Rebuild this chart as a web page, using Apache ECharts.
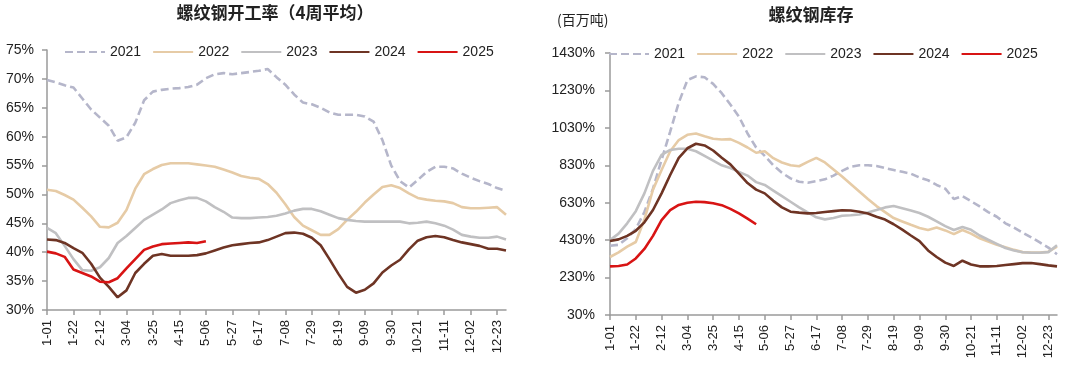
<!DOCTYPE html>
<html><head><meta charset="utf-8">
<script src="https://cdn.jsdelivr.net/npm/echarts@6/dist/echarts.min.js"></script>
<style>html,body{margin:0;padding:0;background:#fff}#c{width:1080px;height:368px}</style>
</head><body><div id="c"></div>
<script>
const weeks = ['1-01','1-08','1-15','1-22','1-29','2-05','2-12','2-19','2-26','3-04','3-11','3-18','3-25','4-01','4-08','4-15','4-22','4-29','5-06','5-13','5-20','5-27','6-03','6-10','6-17','6-24','7-01','7-08','7-15','7-22','7-29','8-05','8-12','8-19','8-26','9-02','9-09','9-16','9-23','9-30','10-07','10-14','10-21','10-28','11-04','11-11','11-18','11-25','12-02','12-09','12-16','12-23','12-30'];
const years = ['2021','2022','2023','2024','2025'];

// 螺纹钢开工率（4周平均）, %
const rate2021 = [69.8,69.4,68.9,68.5,66.6,64.7,63.3,61.9,59.3,59.9,62.4,66.3,67.8,68.1,68.3,68.4,68.6,69.0,70.1,70.8,71.0,70.8,71.0,71.2,71.4,71.7,70.3,69.0,67.3,65.9,65.6,65.0,64.2,63.8,63.8,63.8,63.5,62.6,59.4,55.0,52.3,51.2,52.5,53.9,54.8,54.8,54.5,53.6,52.9,52.3,51.8,51.1,50.6];
const rate2022 = [50.8,50.6,49.9,49.1,47.7,46.2,44.4,44.3,45.1,47.3,51.0,53.5,54.4,55.1,55.4,55.4,55.4,55.2,55.0,54.8,54.3,53.8,53.2,52.9,52.7,51.8,50.3,48.3,46.1,44.6,43.8,43.0,43.0,44.0,45.6,47.0,48.6,50.0,51.3,51.6,51.1,50.2,49.4,49.1,48.9,48.8,48.5,47.8,47.6,47.6,47.7,47.8,46.5];
const rate2023 = [44.2,43.3,41.1,38.8,36.9,36.8,37.4,39.0,41.6,42.8,44.2,45.6,46.5,47.4,48.5,49.0,49.4,49.4,48.8,47.8,47.0,46.0,45.9,45.9,46.0,46.1,46.3,46.7,47.2,47.5,47.5,47.1,46.5,45.9,45.6,45.4,45.3,45.3,45.3,45.3,45.3,45.0,45.1,45.3,45.0,44.6,43.9,43.0,42.7,42.5,42.5,42.7,42.2];
const rate2024 = [42.2,42.1,41.6,40.7,39.9,38.0,35.6,34.0,32.2,33.4,36.4,38.0,39.4,39.7,39.4,39.4,39.4,39.5,39.8,40.3,40.8,41.2,41.4,41.6,41.7,42.1,42.7,43.3,43.4,43.2,42.5,41.2,38.8,36.3,34.0,33.0,33.5,34.6,36.5,37.7,38.7,40.5,42.0,42.6,42.8,42.6,42.1,41.7,41.4,41.1,40.6,40.6,40.3];
const rate2025 = [40.1,39.8,39.2,37.0,36.4,35.8,34.9,34.8,35.5,37.2,38.8,40.4,41.0,41.4,41.5,41.6,41.7,41.6,41.9];

// 螺纹钢库存 (百万吨)
const stock2021 = [400,405,440,490,580,705,860,1010,1165,1285,1305,1300,1265,1215,1155,1090,1000,925,880,830,790,760,742,737,745,755,775,800,822,830,830,826,815,805,795,785,765,750,725,705,650,665,638,610,580,555,520,497,470,445,418,390,355];
const stock2022 = [340,365,395,420,540,700,805,905,965,993,1000,985,972,968,970,950,925,897,905,868,845,830,825,848,870,845,808,770,730,690,650,612,580,548,530,512,495,484,497,482,462,484,465,440,422,405,392,378,366,364,364,368,395];
const stock2023 = [430,465,520,585,680,800,885,912,918,918,905,880,855,830,815,795,775,740,725,695,665,635,605,578,552,541,548,560,563,567,578,591,605,612,600,588,575,555,530,505,484,500,485,455,432,410,388,375,365,363,363,366,403];
const stock2024 = [425,434,453,480,525,591,680,778,870,921,945,936,909,870,835,785,735,700,680,640,605,582,577,573,575,580,585,590,588,582,572,555,540,515,486,455,425,375,340,310,292,320,300,290,290,292,297,302,307,308,302,295,290];
const stock2025 = [290,292,300,332,383,453,537,590,618,630,635,633,627,617,597,573,545,515];

const rateAxis = { min: 30, max: 75, interval: 5 };
const stockAxis = { min: 30, max: 1430, interval: 200 };

const colors = ['#b5b6ca', '#e6cba6', '#c0c0c2', '#6e3424', '#d81414'];
const FONT = '"Liberation Sans", Arial, "Noto Sans CJK SC", sans-serif';
const CJK = '"Noto Sans CJK SC", "Liberation Sans", sans-serif';

const rateData = [rate2021, rate2022, rate2023, rate2024, rate2025];
const stockData = [stock2021, stock2022, stock2023, stock2024, stock2025];

function mkSeries(arrs, idx, suffix) {
  return arrs.map((d, k) => ({
    name: years[k] + suffix, type: 'line', xAxisIndex: idx, yAxisIndex: idx,
    data: d, symbol: 'none', smooth: false, z: 2 + k,
    lineStyle: { color: colors[k], width: 2.6, type: k === 0 ? [8, 4] : 'solid', cap: 'butt' },
    itemStyle: { color: colors[k] }
  }));
}

const axisLineStyle = { lineStyle: { color: '#9a9a9a', width: 1.5 } };

function xAx(gi) {
  return {
    type: 'category', gridIndex: gi, data: weeks, boundaryGap: false,
    axisLine: axisLineStyle,
    axisTick: { show: true, interval: 2, length: 5, lineStyle: { color: '#9a9a9a', width: 1.5 } },
    axisLabel: { interval: 2, rotate: 90, margin: 10, fontSize: 13, color: '#222', fontFamily: FONT },
    splitLine: { show: false }
  };
}
function yAx(gi, cfg, margin) {
  return {
    type: 'value', gridIndex: gi, min: cfg.min, max: cfg.max, interval: cfg.interval,
    axisLine: Object.assign({ show: true }, axisLineStyle),
    axisTick: { show: true, length: 5, lineStyle: { color: '#9a9a9a', width: 1.5 } },
    axisLabel: { formatter: v => String(v) + '%', fontSize: 14, color: '#222', fontFamily: FONT, margin: margin },
    splitLine: { show: false }
  };
}
function mkLegend(left, top, names) {
  return {
    left: left, top: top, itemWidth: 40, itemHeight: 14, itemGap: 11, data: names,
    formatter: n => n.trim(),
    itemStyle: { opacity: 0 },
    textStyle: { fontSize: 14, color: '#222', fontFamily: FONT }
  };
}

const chart = echarts.init(document.getElementById('c'), null, { renderer: 'canvas' });
const leftSeries = mkSeries(rateData, 0, '');
const rightSeries = mkSeries(stockData, 1, ' ');

chart.setOption({
  animation: false,
  backgroundColor: '#fff',
  grid: [
    { left: 47, top: 50, width: 459, height: 260 },
    { left: 610, top: 53, width: 447, height: 262 }
  ],
  xAxis: [xAx(0), xAx(1)],
  yAxis: [yAx(0, rateAxis, 13), yAx(1, stockAxis, 15)],
  legend: [
    mkLegend(59, 40, years),
    mkLegend(603, 42, years.map(y => y + ' '))
  ],
  graphic: [
    { type: 'text', x: 275, y: 13, style: { text: '螺纹钢开工率（4周平均）', font: 'bold 17px ' + CJK, fill: '#222', textAlign: 'center', textVerticalAlign: 'middle' } },
    { type: 'text', x: 811, y: 15, style: { text: '螺纹钢库存', font: 'bold 17px ' + CJK, fill: '#222', textAlign: 'center', textVerticalAlign: 'middle' } },
    { type: 'text', x: 557, y: 20, style: { text: '(百万吨)', font: '14px ' + CJK, fill: '#222', textAlign: 'left', textVerticalAlign: 'middle' } }
  ],
  series: leftSeries.concat(rightSeries)
});
</script>
</body></html>
